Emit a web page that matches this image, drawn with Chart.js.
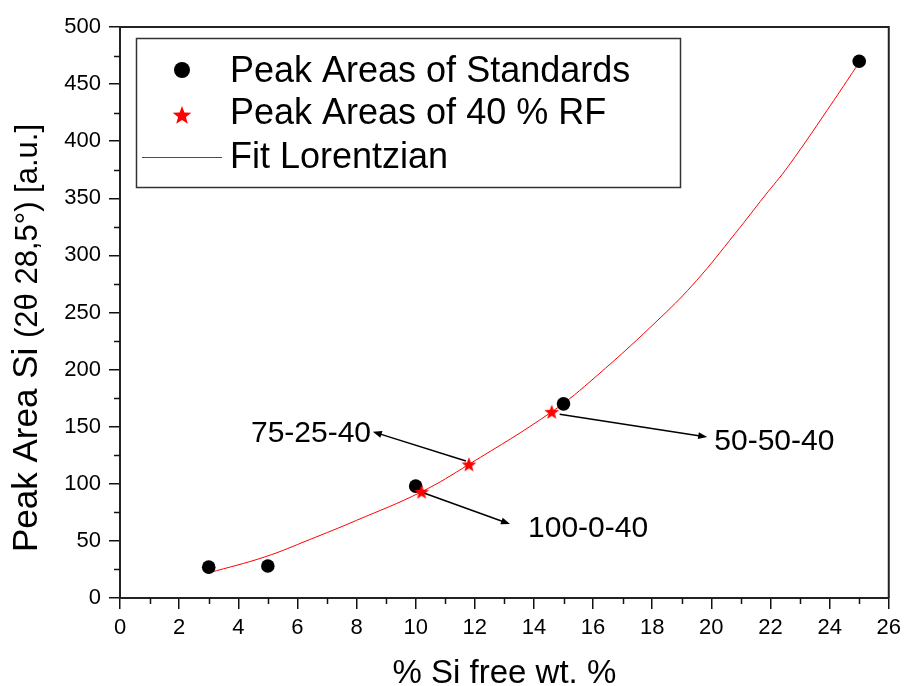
<!DOCTYPE html>
<html>
<head>
<meta charset="utf-8">
<title>Peak Area Si vs. free Si</title>
<script src="https://cdn.jsdelivr.net/npm/chart.js@4/dist/chart.umd.min.js"></script>
<style>
  html, body { margin: 0; padding: 0; background: #ffffff; }
  #wrap { width: 907px; height: 686px; }
</style>
</head>
<body>
<div id="wrap"><canvas id="chart" width="907" height="686"></canvas></div>
<script>
// Calibration standards (% Si free wt. %, peak area)
const standardsX = [3, 5, 10, 15, 25];
const standardsY = [27, 28, 98, 170, 470];

// 40 % RF samples placed on the fit
const rfX = [10.2, 11.8, 14.6];
const rfY = [93, 117, 163];
const rfNames = ['100-0-40', '75-25-40', '50-50-40'];

// Lorentzian fit curve
const fitX = [3, 4.9, 6.4, 8.0, 10.2, 11.8, 14.6, 16.1, 18.3, 19.5, 20.8, 21.8, 22.6, 24.15, 25];
const fitY = [22, 36, 51, 68, 93, 117, 163, 194, 246, 278, 319, 352, 378, 436, 469];

// Axis ticks
const xTickValues = [0, 2, 4, 6, 8, 10, 12, 14, 16, 18, 20, 22, 24, 26];
const yTickValues = [0, 50, 100, 150, 200, 250, 300, 350, 400, 450, 500];
const xMinorTicks = [1, 3, 5, 7, 9, 11, 13, 15, 17, 19, 21, 23, 25];
const yMinorTicks = [25, 75, 125, 175, 225, 275, 325, 375, 425, 475];

// Legend entries
const legendLabels = ['Peak Areas of Standards', 'Peak Areas of 40 % RF', 'Fit Lorentzian'];

const FONT = '"Liberation Sans", Arial, Helvetica, sans-serif';
const RED = 'rgb(255, 0, 0)';

function makeStar(r, color) {
  const s = Math.ceil(r * 2 + 2);
  const c = document.createElement('canvas');
  c.width = s; c.height = s;
  const g = c.getContext('2d');
  g.fillStyle = color;
  g.beginPath();
  for (let i = 0; i < 10; i++) {
    const rad = i % 2 === 0 ? r : r * 0.42;
    const a = -Math.PI / 2 + i * Math.PI / 5;
    const px = s / 2 + rad * Math.cos(a);
    const py = s / 2 + rad * Math.sin(a) + r * 0.08;
    if (i === 0) g.moveTo(px, py); else g.lineTo(px, py);
  }
  g.closePath();
  g.fill();
  return c;
}

const starPoint = makeStar(7.8, RED);
const starLegend = makeStar(9.8, RED);

// Arrow annotations for the RF samples, in data units: tail, head,
// and where the sample name is written (x, baseline y, alignment)
const annotations = [
  { name: rfNames[0], tail: [10.3, 91.7], head: [13.19, 64.8], text: [13.8, 53.7], align: 'left' },
  { name: rfNames[1], tail: [11.7, 120], head: [8.55, 145.6], text: [8.49, 136.9], align: 'right' },
  { name: rfNames[2], tail: [14.87, 160.9], head: [19.86, 141], text: [20.1, 129.6], align: 'left' }
];

function drawArrow(ctx, x0, y0, x1, y1) {
  const ang = Math.atan2(y1 - y0, x1 - x0);
  const hl = 9, hw = 3.5;
  ctx.beginPath();
  ctx.moveTo(x0, y0);
  ctx.lineTo(x1 - hl * 0.6 * Math.cos(ang), y1 - hl * 0.6 * Math.sin(ang));
  ctx.stroke();
  ctx.beginPath();
  ctx.moveTo(x1, y1);
  ctx.lineTo(x1 - hl * Math.cos(ang) + hw * Math.sin(ang), y1 - hl * Math.sin(ang) - hw * Math.cos(ang));
  ctx.lineTo(x1 - hl * Math.cos(ang) - hw * Math.sin(ang), y1 - hl * Math.sin(ang) + hw * Math.cos(ang));
  ctx.closePath();
  ctx.fill();
}

const decorations = {
  id: 'decorations',
  beforeDatasetsDraw(chart) {
    const { ctx, chartArea: a, scales: { x, y } } = chart;
    ctx.save();
    // top and right sides of the frame
    ctx.strokeStyle = '#222';
    ctx.lineWidth = 2;
    ctx.beginPath();
    ctx.moveTo(a.left, a.top);
    ctx.lineTo(a.right, a.top);
    ctx.lineTo(a.right, a.bottom);
    ctx.stroke();
    // minor ticks
    ctx.lineWidth = 1.5;
    ctx.strokeStyle = '#111';
    ctx.beginPath();
    xMinorTicks.forEach(v => {
      const px = Math.round(x.getPixelForValue(v)) + 0.5;
      ctx.moveTo(px, a.bottom);
      ctx.lineTo(px, a.bottom + 6);
    });
    yMinorTicks.forEach(v => {
      const py = Math.round(y.getPixelForValue(v)) + 0.5;
      ctx.moveTo(a.left, py);
      ctx.lineTo(a.left - 6, py);
    });
    ctx.stroke();
    ctx.restore();
  },
  afterDraw(chart) {
    const { ctx, chartArea: a, scales: { x, y } } = chart;
    ctx.save();

    // arrows and sample names
    ctx.strokeStyle = '#000';
    ctx.fillStyle = '#000';
    ctx.lineWidth = 1.5;
    ctx.font = '30px ' + FONT;
    ctx.textBaseline = 'alphabetic';
    annotations.forEach(an => {
      drawArrow(ctx,
        x.getPixelForValue(an.tail[0]), y.getPixelForValue(an.tail[1]),
        x.getPixelForValue(an.head[0]), y.getPixelForValue(an.head[1]));
      ctx.textAlign = an.align;
      ctx.fillText(an.name, x.getPixelForValue(an.text[0]), y.getPixelForValue(an.text[1]));
    });

    // legend box
    const lx = 136, ly = 38, lw = 544, lh = 149;
    ctx.strokeStyle = '#333';
    ctx.lineWidth = 1.5;
    ctx.strokeRect(lx + 0.5, ly + 0.5, lw, lh);
    ctx.font = '36px ' + FONT;
    ctx.textAlign = 'left';
    ctx.fillStyle = '#000';
    ctx.beginPath();
    ctx.arc(182, 70, 8, 0, Math.PI * 2);
    ctx.fill();
    ctx.drawImage(starLegend, 182 - starLegend.width / 2, 115 - starLegend.height / 2);
    ctx.strokeStyle = RED;
    ctx.lineWidth = 1;
    ctx.beginPath();
    ctx.moveTo(142, 157.5);
    ctx.lineTo(222, 157.5);
    ctx.stroke();
    ctx.fillStyle = '#000';
    ctx.fillText(legendLabels[0], 230, 82);
    ctx.fillText(legendLabels[1], 230, 124);
    ctx.fillText(legendLabels[2], 230, 168);

    // axis titles
    ctx.font = '33px ' + FONT;
    ctx.textAlign = 'center';
    ctx.fillText('% Si free wt. %', (a.left + a.right) / 2, 683);

    ctx.translate(37, 552);
    ctx.rotate(-Math.PI / 2);
    ctx.textAlign = 'left';
    ctx.font = '35px ' + FONT;
    const main = 'Peak Area Si ';
    ctx.fillText(main, 0, 0);
    const w = ctx.measureText(main).width;
    ctx.font = '31px ' + FONT;
    ctx.fillText('(2\u03B8 28,5\u00B0) [a.u.]', w, 0);

    ctx.restore();
  }
};

const ctx = document.getElementById('chart').getContext('2d');
new Chart(ctx, {
  type: 'scatter',
  data: {
    datasets: [
      {
        label: legendLabels[2],
        type: 'line',
        data: fitX.map((v, i) => ({ x: v, y: fitY[i] })),
        borderColor: RED,
        borderWidth: 1,
        pointRadius: 0,
        fill: false,
        tension: 0.4,
        order: 3
      },
      {
        label: legendLabels[0],
        data: standardsX.map((v, i) => ({ x: v, y: standardsY[i] })),
        pointStyle: 'circle',
        pointRadius: 6.8,
        backgroundColor: '#000',
        borderColor: '#000',
        borderWidth: 0,
        order: 2
      },
      {
        label: legendLabels[1],
        data: rfX.map((v, i) => ({ x: v, y: rfY[i] })),
        pointStyle: starPoint,
        pointRadius: 7,
        order: 1
      }
    ]
  },
  options: {
    responsive: false,
    animation: false,
    devicePixelRatio: 1,
    layout: { padding: { top: 27, right: 12, left: 0, bottom: 0 } },
    plugins: {
      legend: { display: false },
      tooltip: { enabled: false }
    },
    scales: {
      x: {
        type: 'linear',
        min: 0,
        max: 26,
        afterBuildTicks: s => { s.ticks = xTickValues.map(v => ({ value: v })); },
        afterFit: s => { s.height = 88; },
        ticks: { color: '#000', font: { family: FONT, size: 22 }, padding: 6, maxRotation: 0, autoSkip: false },
        grid: { drawOnChartArea: false, tickLength: 11, color: '#111', lineWidth: 1.5 },
        border: { color: '#222', width: 2 },
        title: { display: false }
      },
      y: {
        type: 'linear',
        min: 0,
        max: 500,
        afterBuildTicks: s => { s.ticks = yTickValues.map(v => ({ value: v })); },
        afterFit: s => { s.width = 120; },
        ticks: { color: '#000', font: { family: FONT, size: 22 }, padding: 8, autoSkip: false },
        grid: { drawOnChartArea: false, tickLength: 11, color: '#111', lineWidth: 1.5 },
        border: { color: '#222', width: 2 },
        title: { display: false }
      }
    }
  },
  plugins: [decorations]
});
</script>
</body>
</html>
